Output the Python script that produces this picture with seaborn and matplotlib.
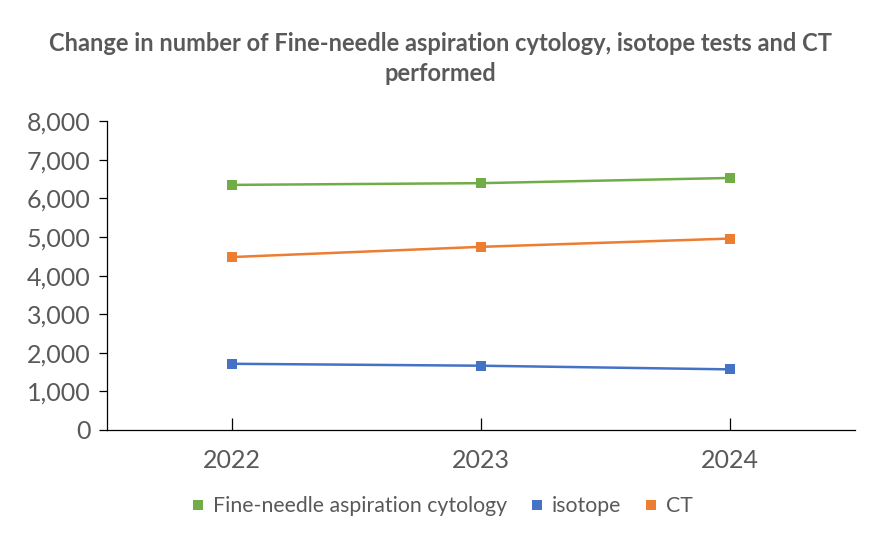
import pandas as pd
import matplotlib.pyplot as plt
import seaborn as sns
from matplotlib.lines import Line2D

# Data
years = ['2022', '2023', '2024']
fnac = [6350, 6395, 6530]
isotope = [1715, 1665, 1570]
ct = [4480, 4745, 4960]

series_names = ['Fine-needle aspiration cytology', 'isotope', 'CT']
colors = ['#70AD47', '#4472C4', '#ED7D31']

df = pd.concat([
    pd.DataFrame({'Year': years, 'Count': vals, 'Series': name})
    for name, vals in zip(series_names, [fnac, isotope, ct])
])
df['x'] = df['Year'].map({y: i for i, y in enumerate(years)})

sns.set_style("white")
plt.rcParams['font.family'] = ['Lato', 'DejaVu Sans']
text_color = '#595959'

fig = plt.figure(figsize=(8.8, 5.46), dpi=100)
ax = fig.add_axes([0.1216, 0.2125, 0.85, 0.5655])

sns.lineplot(data=df, x='x', y='Count', hue='Series', hue_order=series_names,
             palette=colors, marker='s', markersize=7, markeredgewidth=0,
             linewidth=1.8, ax=ax, legend=False)

ax.set_xlim(-0.5, len(years) - 0.5)
ax.set_ylim(0, 8000)
ax.set_yticks(range(0, 8001, 1000))
ax.yaxis.set_major_formatter(plt.FuncFormatter(lambda v, _: f'{int(v):,}'))
ax.set_xticks(range(len(years)))
ax.set_xticklabels(years)
ax.set_xlabel('')
ax.set_ylabel('')

for side in ['top', 'right']:
    ax.spines[side].set_visible(False)
for side in ['left', 'bottom']:
    ax.spines[side].set_color('#000000')
    ax.spines[side].set_linewidth(0.9)

ax.tick_params(axis='y', direction='out', length=6, width=0.9, colors='#000000',
               labelcolor=text_color, labelsize=18, pad=6, left=True)
ax.tick_params(axis='x', direction='in', length=9, width=0.9, colors='#000000',
               labelcolor=text_color, labelsize=18, pad=14, bottom=True)

fig.text(0.5, 0.893,
         'Change in number of Fine-needle aspiration cytology, isotope tests and CT\nperformed',
         ha='center', va='center', fontsize=17, fontweight='bold', color=text_color,
         linespacing=1.35)

handles = [Line2D([], [], linestyle='none', marker='s', markersize=7,
                  markerfacecolor=c, markeredgewidth=0) for c in colors]
fig.legend(handles, series_names, loc='center', bbox_to_anchor=(0.5, 0.073),
           ncol=3, frameon=False, fontsize=15.3, labelcolor=text_color,
           handletextpad=0.2, columnspacing=0.9, handlelength=1.0)

plt.savefig('out.png', dpi=100)
